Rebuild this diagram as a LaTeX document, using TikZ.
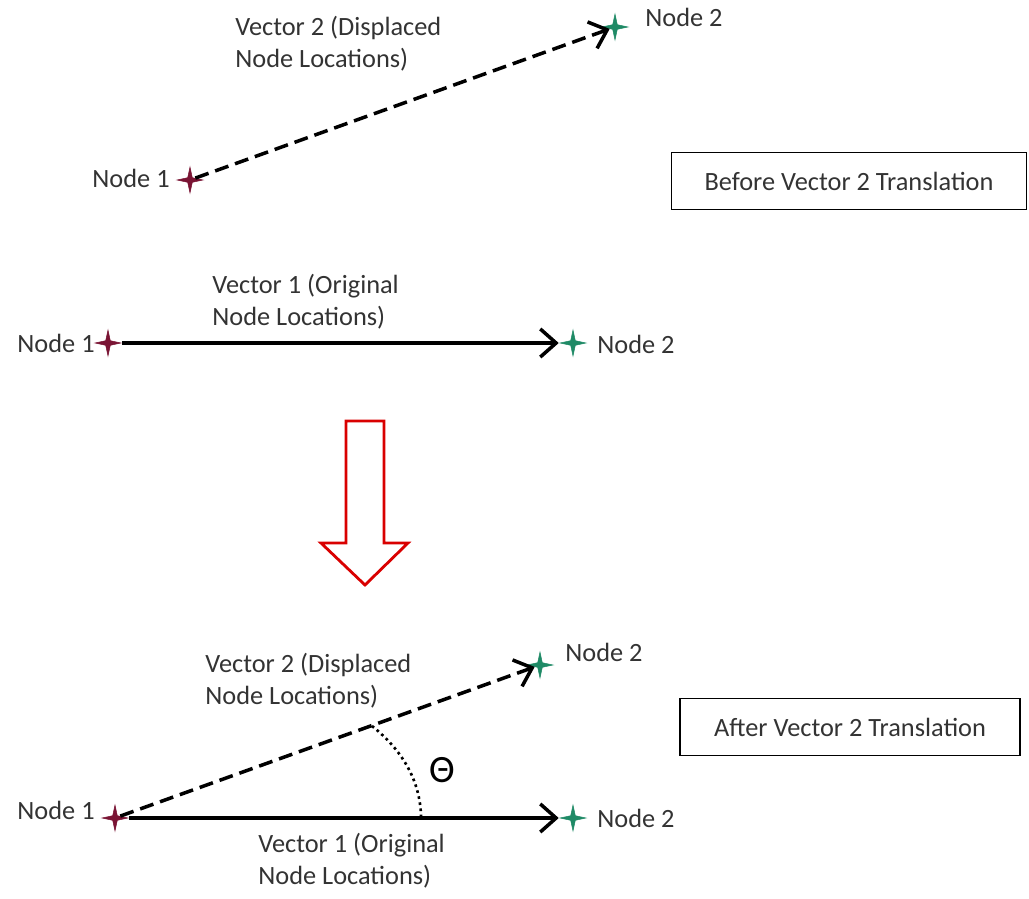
\documentclass[tikz,border=0pt]{standalone}
\usepackage{fontspec}
\setmainfont{Carlito}
\usepackage{xcolor}
\usetikzlibrary{arrows.meta, positioning, shapes.geometric}

\definecolor{nodeone}{HTML}{7A1434}
\definecolor{nodetwo}{HTML}{1F8A66}

\tikzset{
  pt/.style={star, star points=4, star point ratio=0.25, shape border rotate=45,
    inner sep=0pt, minimum size=0.13cm, fill=#1, draw=#1, line width=0.3pt},
  vec/.style={line width=2pt, -{Straight Barb[length=9pt,width=16pt]}},
  dvec/.style={vec, dash pattern=on 8pt off 4pt},
  lbl/.style={font=\fontsize{15}{18}\selectfont, text=black!80, align=left, inner sep=0pt},
  titlebox/.style={draw, line width=0.8pt, minimum width=7.1cm, minimum height=1.15cm,
    font=\fontsize{15}{18}\selectfont, text=black!80}
}

\begin{document}
\begin{tikzpicture}[x=0.02cm,y=-0.02cm]
\useasboundingbox (0,0) rectangle (1029,899);
% before translation
\node[pt=nodeone] (a1) at (190,180) {};
\node[pt=nodetwo] (a2) at (615,27) {};
\draw[dvec] (a1) -- (a2);
\node[lbl, anchor=east] (a1l) at (170,178) {Node 1};
\node[lbl, anchor=west] (a2l) at (645,17) {Node 2};
\node[lbl, anchor=west] (avec) at (235,44) {Vector 2 (Displaced\\Node Locations)};
\node[titlebox] (before) at (849,181) {Before Vector 2 Translation};

\node[pt=nodeone] (b1) at (108,343) {};
\node[pt=nodetwo] (b2) at (573,343) {};
\draw[vec] (b1) -- (b2);
\node[lbl, anchor=east] (b1l) at (95,343) {Node 1};
\node[lbl, anchor=west] (b2l) at (597,344) {Node 2};
\node[lbl, anchor=west] (bvec) at (212,302) {Vector 1 (Original\\Node Locations)};

% red arrow
\draw[red!85!black, line width=1.6pt, fill=white]
  (346,421) -- (384,421) -- (384,543) -- (408,543) -- (365,585)
  -- (321,543) -- (346,543) -- cycle;

% after translation
\node[pt=nodeone] (c1) at (115,818) {};
\node[pt=nodetwo] (c2) at (573,818) {};
\node[pt=nodetwo] (c3) at (540,665) {};
\draw[vec] (c1) -- (c2);
\draw[dvec] (c1) -- (c3);
\node[lbl, anchor=east] (c1l) at (95,810) {Node 1};
\node[lbl, anchor=west] (c2l) at (597,818) {Node 2};
\node[lbl, anchor=west] (c3l) at (565,652) {Node 2};
\node[lbl, anchor=west] (cvec) at (205,681) {Vector 2 (Displaced\\Node Locations)};
\node[lbl, anchor=west] (dvec) at (258,861) {Vector 1 (Original\\Node Locations)};
\coordinate (arcs) at (372,726);
\coordinate (arce) at (421,816);
\draw[line width=1.5pt, dotted] (arcs) .. controls (402,750) and (420,780) .. (arce);
\node[font=\fontsize{22}{24}\selectfont] (theta) at (442,770) {Θ};
\node[titlebox, minimum width=6.8cm] (after) at (850,727) {After Vector 2 Translation};
\end{tikzpicture}
\end{document}
